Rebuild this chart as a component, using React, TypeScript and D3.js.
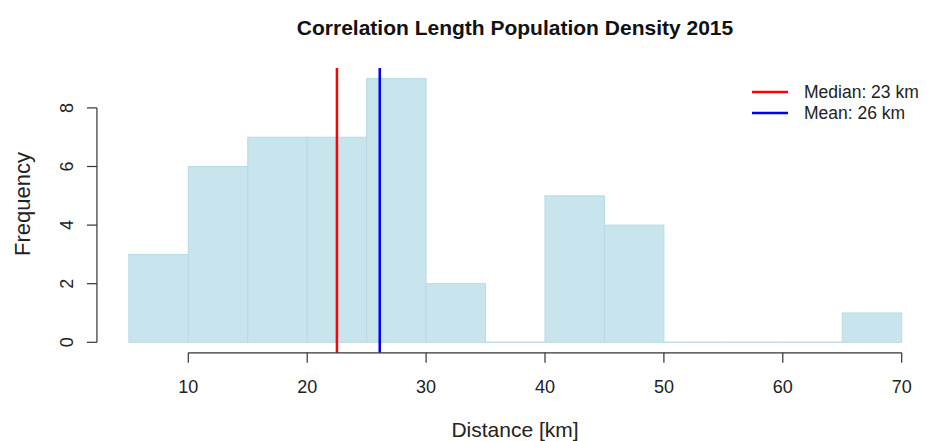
import React from "react";
import * as d3 from "d3";

const binStarts = [5, 10, 15, 20, 25, 30, 35, 40, 45, 50, 55, 60, 65];
const binWidth = 5;
const counts = [3, 6, 7, 7, 9, 2, 0, 5, 4, 0, 0, 0, 1];
const xTicks = [10, 20, 30, 40, 50, 60, 70];
const yTicks = [0, 2, 4, 6, 8];
const medianValue = 22.5;
const meanValue = 26.1;
const legendLabels = ["Median: 23 km", "Mean: 26 km"];
const legendColors = ["#ff0000", "#0000ff"];

const W = 927;
const H = 441;
const font = "'Liberation Sans', Arial, Helvetica, sans-serif";

export default function App() {
  const x = d3.scaleLinear().domain([10, 70]).range([188.3, 901.7]);
  const y = d3.scaleLinear().domain([0, 8]).range([342.3, 107.9]);
  const yTopPlot = y(9.36);
  const yBotPlot = y(-0.36);
  const axisY = yBotPlot;
  const axisX = x(2.4) - 1;
  const tickLen = 10;
  const tickColor = "#333";

  return (
    <svg width={W} height={H} style={{ position: "absolute", left: 0, top: 0, background: "#fff" }}>
      <text x={515} y={35} textAnchor="middle" fontFamily={font} fontWeight="bold" fontSize={21} fill="#111">
        Correlation Length Population Density 2015
      </text>
      {binStarts.map((b, i) =>
        counts[i] > 0 ? (
          <rect
            key={i}
            x={x(b)}
            y={y(counts[i])}
            width={x(b + binWidth) - x(b)}
            height={y(0) - y(counts[i])}
            fill="#c8e4ec"
            stroke="#b8dae4"
            strokeWidth={1}
          />
        ) : (
          <line key={i} x1={x(b)} x2={x(b + binWidth)} y1={y(0)} y2={y(0)} stroke="#c0dfe8" strokeWidth={1.5} />
        )
      )}
      {[medianValue, meanValue].map((v, i) => (
        <line key={i} x1={x(v)} x2={x(v)} y1={yTopPlot} y2={yBotPlot} stroke={legendColors[i]} strokeWidth={2.5} />
      ))}
      {/* x axis */}
      <line x1={x(10)} x2={x(70)} y1={axisY} y2={axisY} stroke={tickColor} strokeWidth={1.2} />
      {xTicks.map((t) => (
        <g key={t}>
          <line x1={x(t)} x2={x(t)} y1={axisY} y2={axisY + tickLen} stroke={tickColor} strokeWidth={1.2} />
          <text x={x(t)} y={axisY + 40} textAnchor="middle" fontFamily={font} fontSize={18} fill="#222">
            {t}
          </text>
        </g>
      ))}
      {/* y axis */}
      <line x1={axisX} x2={axisX} y1={y(0)} y2={y(8)} stroke={tickColor} strokeWidth={1.2} />
      {yTicks.map((t) => (
        <g key={t}>
          <line x1={axisX - tickLen} x2={axisX} y1={y(t)} y2={y(t)} stroke={tickColor} strokeWidth={1.2} />
          <text
            transform={`translate(${axisX - 24},${y(t)}) rotate(-90)`}
            textAnchor="middle"
            fontFamily={font}
            fontSize={18}
            fill="#222"
          >
            {t}
          </text>
        </g>
      ))}
      <text x={515} y={437} textAnchor="middle" fontFamily={font} fontSize={21} fill="#222">
        Distance [km]
      </text>
      <text transform={`translate(30,204) rotate(-90)`} textAnchor="middle" fontFamily={font} fontSize={22} fill="#222">
        Frequency
      </text>
      {/* legend */}
      {legendLabels.map((l, i) => (
        <g key={i}>
          <line x1={752} x2={788} y1={92 + i * 21} y2={92 + i * 21} stroke={legendColors[i]} strokeWidth={2.5} />
          <text x={804} y={92 + i * 21 + 6} fontFamily={font} fontSize={17.5} fill="#222">
            {l}
          </text>
        </g>
      ))}
    </svg>
  );
}
